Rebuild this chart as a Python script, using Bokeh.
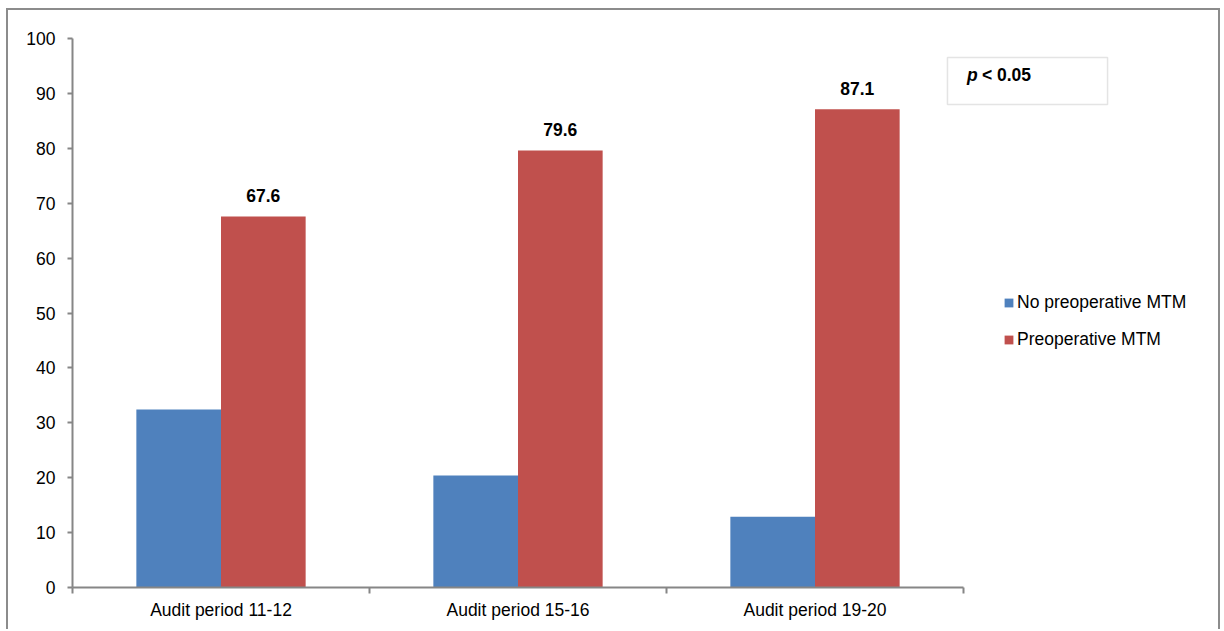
from bokeh.plotting import figure
from bokeh.models import (ColumnDataSource, FixedTicker, Range1d, Legend, LegendItem,
                          BoxAnnotation, Label, LabelSet)
from bokeh.core.properties import value
from bokeh.embed import file_html
from bokeh.resources import INLINE

categories = ["Audit period 11-12", "Audit period 15-16", "Audit period 19-20"]
no_preop = [32.4, 20.4, 12.9]
preop = [67.6, 79.6, 87.1]
series_names = ["No preoperative MTM", "Preoperative MTM"]
y_ticks = [0, 10, 20, 30, 40, 50, 60, 70, 80, 90, 100]
p_text = "p"
p_rest = "< 0.05"

BLUE = "#4F81BD"
RED = "#C0504D"
GRAY = "#868686"
FONT = "Liberation Sans"
FS = "17.5px"

n = len(categories)
centers = [i + 0.5 for i in range(n)]
bw = 0.285
src_blue = ColumnDataSource(dict(x=[c - bw / 2 for c in centers], top=no_preop))
src_red = ColumnDataSource(dict(x=[c + bw / 2 for c in centers], top=preop,
                                lab=[f"{v:.1f}" for v in preop]))

# canvas content: x 8..1222, y 10..631 ; frame: x 72..1222, y 38..587
X_MAX = n * (1222 - 72) / (963 - 72)
p = figure(width=1214, height=621, output_backend="svg", toolbar_location=None,
           x_range=Range1d(0, X_MAX), y_range=Range1d(0, 100),
           min_border_left=64, min_border_right=0, min_border_top=28, min_border_bottom=44,
           styles={"margin-left": "6px", "margin-top": "8px",
                   "border-left": "2px solid #8C8C8C", "border-top": "2px solid #8C8C8C",
                   "border-right": "2px solid #8C8C8C"})
p.outline_line_color = None
p.xgrid.visible = False
p.ygrid.visible = False

r_blue = p.vbar(x="x", top="top", width=bw, source=src_blue, fill_color=BLUE, line_color=None)
r_red = p.vbar(x="x", top="top", width=bw, source=src_red, fill_color=RED, line_color=None)

labels = LabelSet(x="x", y="top", text="lab", source=src_red, text_align="center",
                  text_baseline="middle", y_offset=21, text_font=value(FONT),
                  text_font_size=value(FS), text_font_style=value("bold"),
                  text_color=value("black"))
p.add_layout(labels)

# axes
p.xaxis.bounds = (0, n)
p.xaxis.ticker = FixedTicker(ticks=centers, minor_ticks=list(range(n + 1)))
p.xaxis.major_label_overrides = {c: name for c, name in zip(centers, categories)}
p.xaxis.major_tick_out = 0
p.xaxis.major_tick_in = 0
p.xaxis.minor_tick_out = 6
p.xaxis.minor_tick_in = 0
p.xaxis.minor_tick_line_color = GRAY
p.xaxis.minor_tick_line_width = 2
p.xaxis.major_label_standoff = 6

p.yaxis.bounds = (0, 100)
p.yaxis.ticker = FixedTicker(ticks=y_ticks, minor_ticks=[])
p.yaxis.major_tick_out = 5
p.yaxis.major_tick_in = 0
p.yaxis.major_tick_line_color = GRAY
p.yaxis.major_tick_line_width = 2
p.yaxis.major_label_standoff = 12

for ax in (p.xaxis, p.yaxis):
    ax.axis_line_color = GRAY
    ax.axis_line_width = 2
    ax.major_label_text_font = FONT
    ax.major_label_text_font_size = FS
    ax.major_label_text_color = "black"

# legend
legend = Legend(items=[LegendItem(label=series_names[0], renderers=[r_blue]),
                       LegendItem(label=series_names[1], renderers=[r_red])],
                location=(931, 237), orientation="vertical",
                glyph_width=11, glyph_height=11, label_height=20, label_standoff=3,
                spacing=16, padding=0, margin=0, border_line_color=None,
                background_fill_alpha=0, label_text_font=FONT,
                label_text_font_size=FS, label_text_color="black")
p.add_layout(legend)

# p-value box
box = BoxAnnotation(left=2.946, right=3.485, bottom=87.98, top=96.54,
                    fill_color="white", fill_alpha=1, line_color="#A6A6A6", line_width=1.5)
p.add_layout(box)
p.add_layout(Label(x=3.012, y=93.3, text=p_text, text_font=FONT, text_font_size=FS,
                   text_font_style="bold italic", text_baseline="middle", text_color="black"))
p.add_layout(Label(x=3.062, y=93.3, text=p_rest, text_font=FONT, text_font_size=FS,
                   text_font_style="bold", text_baseline="middle", text_color="black"))

open("out.html", "w").write(file_html(p, INLINE))
